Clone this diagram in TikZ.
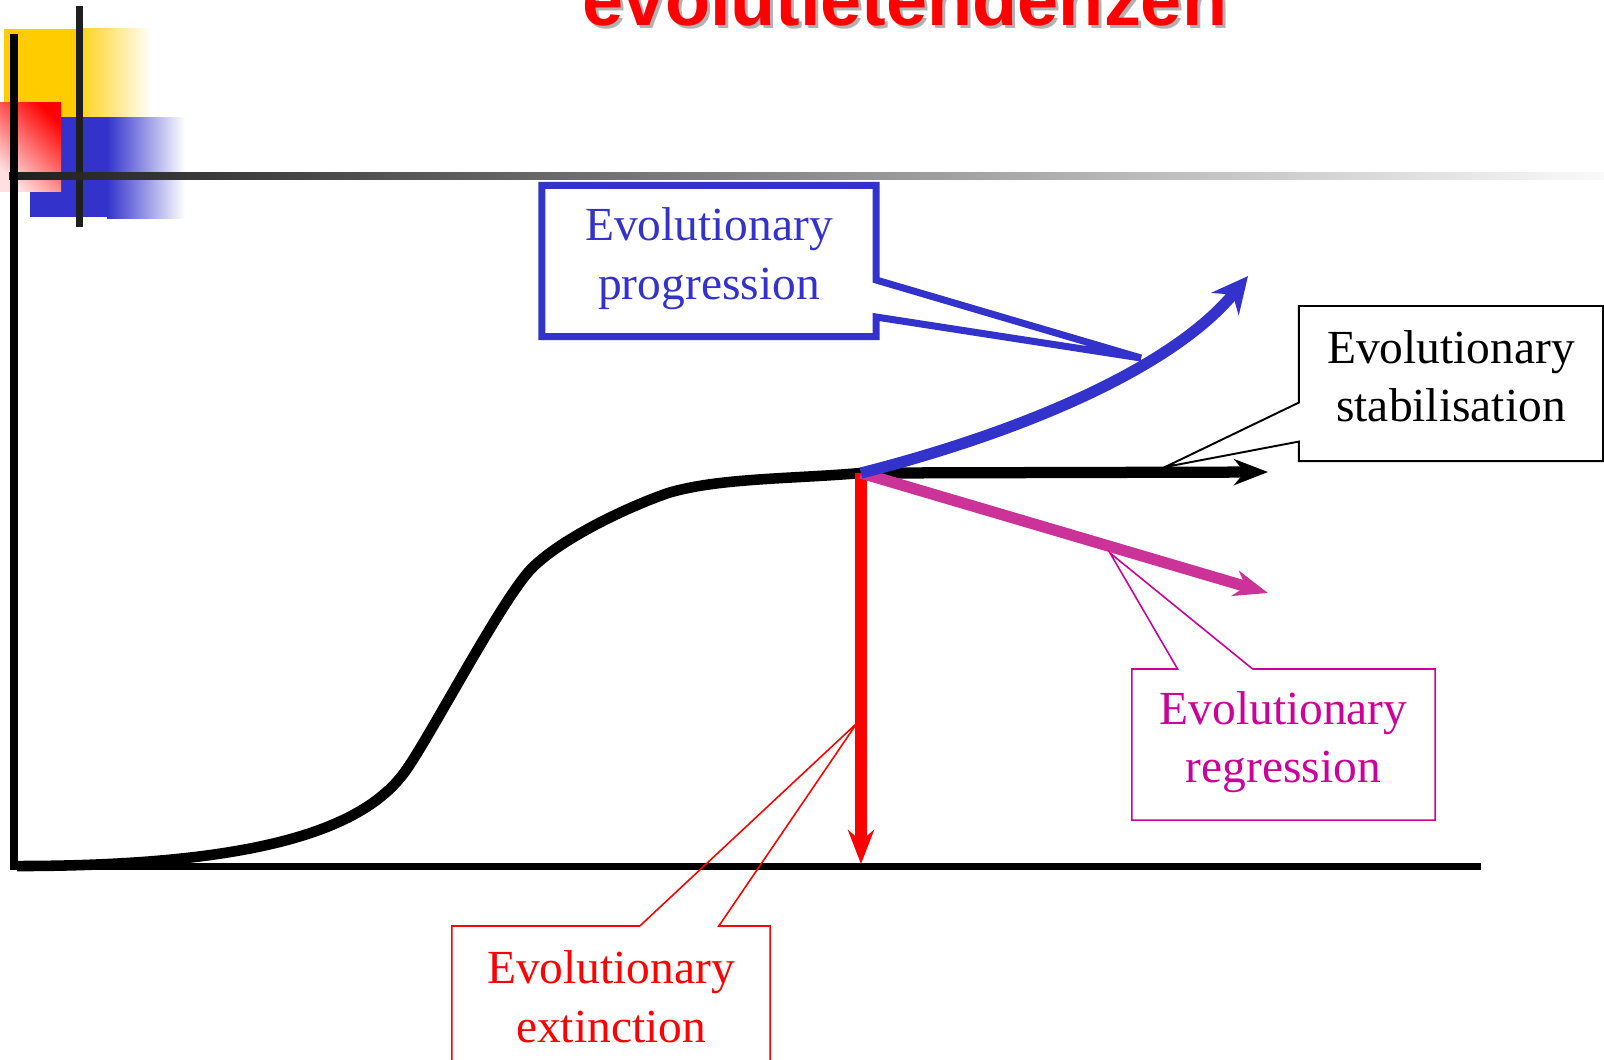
\documentclass[tikz,border=0pt]{standalone}
\usepackage{fontspec}
\setmainfont{Liberation Serif}
\newfontfamily\titlefont{Liberation Sans}
\usepackage{tikz}
\usetikzlibrary{arrows.meta,shapes.callouts}
\definecolor{evoBlue}{HTML}{3333CC}
\definecolor{evoMagenta}{HTML}{CC3399}
\definecolor{evoPink}{HTML}{CC0099}
\definecolor{evoRed}{HTML}{FF0000}
\definecolor{evoYellow}{HTML}{FFCC00}
\definecolor{evoDark}{HTML}{1F1F1F}

\begin{document}
\begin{tikzpicture}[x=0.01cm,y=-0.01cm,
    callbox/.style={rectangle callout,align=center,inner sep=0pt,text depth=0.15cm,
                    font=\fontsize{13.5}{16.6}\selectfont},
    trend/.style={line width=3.2pt,-{Stealth[length=0.34cm,width=0.26cm,inset=0.11cm]}},
    ttl/.style={anchor=base,font=\titlefont\bfseries\fontsize{21}{25}\selectfont}]
  \useasboundingbox (0,0) rectangle (1604,1059);
  \clip (0,0) rectangle (1604,1059);
  % corner ornament
  \fill[evoYellow] (4,29) rectangle (84,117);
  \shade[left color=evoYellow!85,right color=white] (83,28) rectangle (152,117);
  \fill[evoBlue] (30,117) rectangle (108,217);
  \shade[left color=evoBlue,right color=white] (107,117) rectangle (185,218);
  \shade[top color=red,bottom color=red!12,shading angle=-45] (0,102) rectangle (61,191);
  \fill[evoDark] (76,6) rectangle (83,227);
  \shade[left color=evoDark,right color=black!2] (9,172) rectangle (1604,179);
  % title
  \node[ttl,text=black!30] (titleshadow) at (908,28) {evolutietendenzen};
  \node[ttl,text=evoRed] (title) at (905,25) {evolutietendenzen};
  % axes and curve
  \coordinate (top) at (14,34);
  \coordinate (orig) at (14,866);
  \coordinate (xend) at (1481,866);
  \draw[line width=2pt] (top) -- (orig) -- (xend);
  \coordinate (jn) at (861,473);
  \draw[line width=3pt] (17,866) .. controls (270,866) and (365,825) .. (404,773)
    .. controls (428,741) and (503,596) .. (533,567)
    .. controls (563,538) and (625,508) .. (668,493)
    .. controls (718,478) and (790,479) .. (jn);
  % trends
  \coordinate (stabend) at (1268,472);
  \coordinate (extiend) at (861,864);
  \coordinate (regrend) at (1268,593);
  \coordinate (progend) at (1248,276);
  \draw[trend] (jn) -- (stabend);
  \draw[trend,evoRed] (jn) -- (extiend);
  \draw[trend,evoMagenta] (jn) -- (regrend);
  \draw[trend,evoBlue,-{Stealth[length=0.36cm,width=0.35cm,inset=0.12cm]}]
    (jn) .. controls (1030,430) and (1175,365) .. (progend);
  % labels
  \coordinate (progtip) at (1141,358);
  \coordinate (stabtip) at (1165,467);
  \coordinate (regrtip) at (1110,553);
  \coordinate (extitip) at (857,723);
  \node[callbox,draw=evoBlue,text=evoBlue,line width=2pt,minimum width=3.34cm,minimum height=1.51cm,
        callout absolute pointer={(progtip)},callout pointer width=0.37cm] (prog) at (709,261)
        {Evolutionary\\progression};
  \node[callbox,draw=black,line width=0.55pt,minimum width=3.04cm,minimum height=1.55cm,
        callout absolute pointer={(stabtip)},callout pointer width=0.39cm] (stab) at (1451,383.5)
        {Evolutionary\\stabilisation};
  \node[callbox,draw=evoPink,text=evoPink,line width=0.45pt,minimum width=3.03cm,minimum height=1.51cm,
        callout absolute pointer={(regrtip)},callout pointer width=0.75cm] (regr) at (1283.5,744.5)
        {Evolutionary\\regression};
  \node[callbox,draw=evoRed,text=evoRed,line width=0.45pt,minimum width=3.18cm,minimum height=1.56cm,
        callout absolute pointer={(extitip)},callout pointer width=0.79cm] (exti) at (611,1004)
        {Evolutionary\\extinction};
\end{tikzpicture}
\end{document}
